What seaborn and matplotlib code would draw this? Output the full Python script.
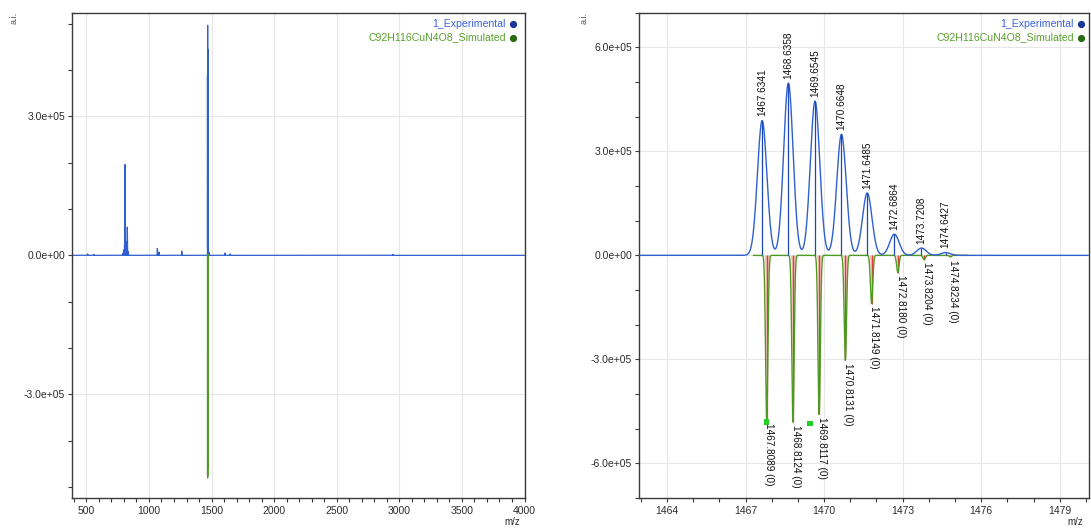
import numpy as np
import pandas as pd
import matplotlib
matplotlib.use("Agg")
import matplotlib.pyplot as plt
from matplotlib.ticker import MultipleLocator, FormatStrFormatter
import seaborn as sns

# ---------------- data ----------------
exp_mz = [1467.6341, 1468.6358, 1469.6545, 1470.6648, 1471.6485, 1472.6864, 1473.7208, 1474.6427]
exp_int = [389e3, 497e3, 445e3, 349e3, 180e3, 61e3, 21e3, 8e3]
exp_labels = ["1467.6341", "1468.6358", "1469.6545", "1470.6648", "1471.6485", "1472.6864", "1473.7208", "1474.6427"]

sim_mz = [1467.8089, 1468.8124, 1469.8117, 1470.8131, 1471.8149, 1472.8180, 1473.8204, 1474.8234]
sim_int = [-476e3, -481e3, -459e3, -303e3, -139e3, -50e3, -12e3, -4e3]
sim_labels = ["1467.8089 (0)", "1468.8124 (0)", "1469.8117 (0)", "1470.8131 (0)",
              "1471.8149 (0)", "1472.8180 (0)", "1473.8204 (0)", "1474.8234 (0)"]

# other (background) experimental peaks in the full-range spectrum
bg_mz = [510, 560, 790, 800, 805, 809, 815, 820, 827, 835, 1067, 1080, 1262, 1480, 1608, 1650, 2950]
bg_int = [3e3, 2e3, 4e3, 12e3, 25e3, 196e3, 30e3, 22e3, 61e3, 8e3, 15e3, 7e3, 9e3, 6e3, 5e3, 3e3, 2e3]

# highlighted markers on the simulated trace
mark_mz = [1467.79, 1469.46]
mark_int = [-481e3, -484e3]

legend_names = ["1_Experimental", "C92H116CuN4O8_Simulated"]

# ---------------- styling ----------------
BLUE = "#2f5fd0"
BLUE_STICK = "#1c46b8"
BLUE_TXT = "#3a62de"
BLUE_DOT = "#1a3797"
GREEN = "#4f9a22"
GREEN_TXT = "#5aa02c"
GREEN_DOT = "#2a6a10"
RED = "#e03a3a"
PINK = "#f6a8a8"
TXT = "#2b2b2b"
FONT = ["Liberation Sans", "DejaVu Sans"]

sns.set_theme(style="white")
plt.rcParams["font.family"] = FONT

W, H = 1091, 528
fig = plt.figure(figsize=(W / 100, H / 100), dpi=100)


def px_box(x0, y0, x1, y1):
    return [x0 / W, 1 - y1 / H, (x1 - x0) / W, (y1 - y0) / H]


axL = fig.add_axes(px_box(72, 12.7, 524.5, 498))
axR = fig.add_axes(px_box(639, 12.7, 1089, 498))


def gauss_sum(x, centers, heights, sigma):
    y = np.zeros_like(x)
    for c, h in zip(centers, heights):
        y += h * np.exp(-0.5 * ((x - c) / sigma) ** 2)
    return y


# ---------------- left: full range ----------------
xL = np.arange(385, 4000, 0.02)
yL = gauss_sum(xL, exp_mz, exp_int, 0.18)
yL += gauss_sum(xL, bg_mz, bg_int, 0.8)
dfL = pd.DataFrame({"mz": xL, "I": yL})
sns.lineplot(data=dfL, x="mz", y="I", ax=axL, color=BLUE, lw=0.9,
             estimator=None, sort=False)

xs = np.arange(1467.3, 1475.5, 0.004)
ys = gauss_sum(xs, sim_mz, sim_int, 0.045)
dfS = pd.DataFrame({"mz": xs, "I": ys})
sns.lineplot(data=dfS, x="mz", y="I", ax=axL, color=GREEN, lw=0.9,
             estimator=None, sort=False)

axL.set_xlim(385, 4000)
axL.set_ylim(-5.24e5, 5.24e5)
axL.xaxis.set_major_locator(MultipleLocator(500))
axL.xaxis.set_minor_locator(MultipleLocator(100))

# ---------------- right: zoom on isotope cluster ----------------
xR = np.arange(1462.9, 1480.1, 0.004)
yR = gauss_sum(xR, exp_mz, exp_int, 0.18)
dfR = pd.DataFrame({"mz": xR, "I": yR})

ys_pink = gauss_sum(xs, sim_mz, sim_int, 0.03)
axR.fill_between(xs, 0, ys_pink, color=PINK, alpha=0.8, lw=0, zorder=2)
axR.vlines(sim_mz, 0, sim_int, color=RED, lw=0.9, zorder=3)
sns.lineplot(data=dfS, x="mz", y="I", ax=axR, color=GREEN, lw=1.0,
             estimator=None, sort=False, zorder=3)
sns.lineplot(data=dfR, x="mz", y="I", ax=axR, color=BLUE, lw=1.0,
             estimator=None, sort=False, zorder=4)
axR.vlines(exp_mz, 0, exp_int, color=BLUE_STICK, lw=0.9, zorder=4)
sns.scatterplot(x=mark_mz, y=mark_int, ax=axR, color="#22d022", s=14,
                marker="s", edgecolor="none", zorder=5)

for m, v, t in zip(exp_mz, exp_int, exp_labels):
    axR.annotate(t, (m, v), xytext=(0, 3), textcoords="offset points",
                 rotation=90, ha="center", va="bottom", fontsize=7.2,
                 color="#111111", family=FONT)
for m, v, t in zip(sim_mz, sim_int, sim_labels):
    axR.annotate(t, (m, v), xytext=(2, -2), textcoords="offset points",
                 rotation=270, ha="center", va="top", fontsize=7.2,
                 color="#111111", family=FONT)

axR.set_xlim(1462.93, 1480.12)
axR.set_ylim(-7.0e5, 7.0e5)
axR.xaxis.set_major_locator(MultipleLocator(3))
axR.xaxis.set_minor_locator(MultipleLocator(1))

# ---------------- common axis styling ----------------
for ax in (axL, axR):
    ax.yaxis.set_major_locator(MultipleLocator(3e5))
    ax.yaxis.set_minor_locator(MultipleLocator(1e5))
    ax.yaxis.set_major_formatter(FormatStrFormatter("%.1e"))
    ax.set_xlabel("")
    ax.set_ylabel("")
    ax.grid(True, which="major", color="#e6e6e6", lw=0.8, zorder=0)
    ax.set_axisbelow(True)
    for sp in ax.spines.values():
        sp.set_color("#3a3a3a")
        sp.set_linewidth(1.0)
    ax.tick_params(which="both", direction="out", length=3, width=0.8,
                   color="#3a3a3a", labelsize=7.5, labelcolor=TXT,
                   bottom=True, left=True, top=False, right=False)
    ax.tick_params(axis="x", pad=3)
    ax.tick_params(axis="y", pad=2)
    for lab in ax.get_xticklabels() + ax.get_yticklabels():
        lab.set_family(FONT)
    if ax.get_legend() is not None:
        ax.get_legend().remove()


def ftext(x, y, s, **kw):
    fig.text(x / W, 1 - y / H, s, **kw)


def fdot(x, y, color):
    fig.add_artist(plt.Line2D([x / W], [1 - y / H], marker="o", ms=4.2,
                              color=color, mec=color, transform=fig.transFigure))


for xe, xd in ((506, 513), (1074, 1080.5)):
    ftext(xe, 24, legend_names[0], ha="right", va="center", fontsize=7.6,
          color=BLUE_TXT, family=FONT)
    ftext(xe, 37.5, legend_names[1], ha="right", va="center", fontsize=7.6,
          color=GREEN_TXT, family=FONT)
    fdot(xd, 24, BLUE_DOT)
    fdot(xd, 37.5, GREEN_DOT)

for xa in (14, 584):
    ftext(xa, 18, "a.i.", rotation=90, ha="center", va="center", fontsize=6.5,
          color="#555555", family=FONT)
for xm in (512, 1075):
    ftext(xm, 522, "m/z", ha="center", va="center", fontsize=7,
          color=TXT, family=FONT)

fig.savefig("out.png", dpi=100)
